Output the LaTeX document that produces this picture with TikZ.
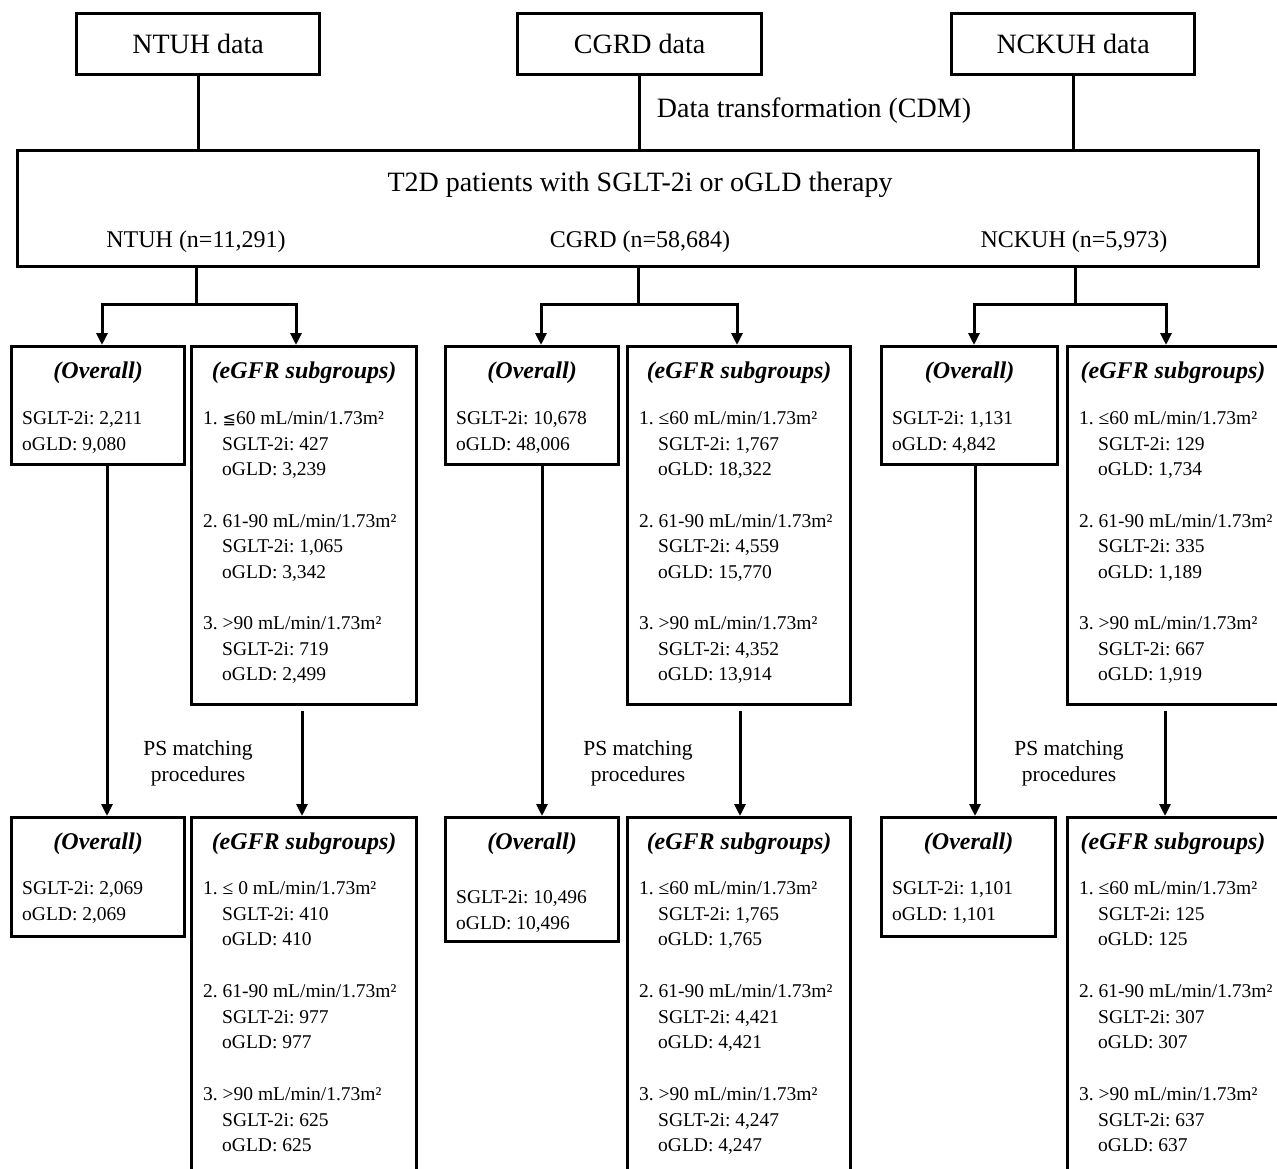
\documentclass[tikz,border=0pt]{standalone}
\usepackage{fontspec}
\setmainfont{Liberation Serif}
\newfontfamily\symf{DejaVu Sans}
\usetikzlibrary{arrows.meta,calc}
\frenchspacing
\tikzset{
 box/.style={draw, line width=3.2pt, inner sep=0pt, anchor=north west},
 txt/.style={inner sep=0pt, font=\fontsize{19.5}{23}\selectfont, anchor=base west},
 ttl/.style={inner sep=0pt, font=\fontsize{24}{28}\selectfont\bfseries\itshape},
 head/.style={inner sep=0pt, font=\fontsize{28}{32}\selectfont},
 sub/.style={inner sep=0pt, font=\fontsize{24}{28}\selectfont},
 ps/.style={inner sep=0pt, align=center, font=\fontsize{21.5}{26}\selectfont},
 conn/.style={line width=3pt},
 arr/.style={conn, -{Triangle[length=12pt,width=11pt]}},
}
\newcommand\mybox[6]{%
 \pgfmathsetmacro\bw{#4-#2}\pgfmathsetmacro\bh{#5-#3}%
 \node[box,minimum width=\bw pt,minimum height=\bh pt,font=\fontsize{28}{32}\selectfont] (#1) at (#2,#3) {#6};}
\newcommand\egrp[6]{%
 \node[txt] (#1a) at (#2+13,#3) {#4};
 \node[txt] (#1b) at (#2+32,#3+25.5) {SGLT-2i: #5};
 \node[txt] (#1c) at (#2+32,#3+51) {oGLD: #6};}
\begin{document}
\begin{tikzpicture}[x=1pt,y=-1pt]
\useasboundingbox (0,0) rectangle (1277,1169);
\clip (0,0) rectangle (1277,1169);
% top boxes
\mybox{ntuh}{75}{12}{318}{73}{NTUH data}
\mybox{cgrd}{516}{12}{760}{73}{CGRD data}
\mybox{nckuh}{950}{12}{1193}{73}{NCKUH data}
\node[head] (dt) at (814,111) {Data transformation (CDM)};
% big box
\mybox{big}{16}{149}{1257}{265}{}
\node[head] (t2d) at (640,185) {T2D patients with SGLT-2i or oGLD therapy};
\node[sub] (na) at (196,242) {NTUH (n=11,291)};
\node[sub] (nb) at (640,242) {CGRD (n=58,684)};
\node[sub] (nc) at (1074,242) {NCKUH (n=5,973)};
\draw[conn] (ntuh.south) -- (ntuh.south |- big.north);
\draw[conn] (cgrd.south) -- (cgrd.south |- big.north);
\draw[conn] (nckuh.south) -- (nckuh.south |- big.north);
% row 1 boxes
\mybox{a1o}{10}{345}{183}{463}{}
\mybox{a1e}{190}{345}{415}{703}{}
\mybox{b1o}{444}{345}{617}{463}{}
\mybox{b1e}{626}{345}{849}{703}{}
\mybox{c1o}{880}{345}{1056}{463}{}
\mybox{c1e}{1066}{345}{1300}{703}{}
% row 2 boxes
\mybox{a2o}{10}{816}{183}{935}{}
\mybox{a2e}{190}{816}{415}{1200}{}
\mybox{b2o}{444}{816}{617}{940}{}
\mybox{b2e}{626}{816}{849}{1200}{}
\mybox{c2o}{880}{816}{1054}{935}{}
\mybox{c2e}{1066}{816}{1300}{1200}{}
% branches
\coordinate (ja) at (196,304);
\coordinate (jb) at (638,304);
\coordinate (jc) at (1075,304);
\coordinate (xa1) at (102,0); \coordinate (xa2) at (296,0);
\coordinate (xb1) at (541,0); \coordinate (xb2) at (737,0);
\coordinate (xc1) at (974,0); \coordinate (xc2) at (1166,0);
\draw[conn] (ja |- big.south) -- (ja);
\draw[conn] (jb |- big.south) -- (jb);
\draw[conn] (jc |- big.south) -- (jc);
\draw[arr] (ja) -| (xa1 |- a1o.north);
\draw[arr] (ja) -| (xa2 |- a1e.north);
\draw[arr] (jb) -| (xb1 |- b1o.north);
\draw[arr] (jb) -| (xb2 |- b1e.north);
\draw[arr] (jc) -| (xc1 |- c1o.north);
\draw[arr] (jc) -| (xc2 |- c1e.north);
% PS matching arrows
\coordinate (pa1) at (107,0); \coordinate (pa2) at (302,0);
\coordinate (pb1) at (542,0); \coordinate (pb2) at (740,0);
\coordinate (pc1) at (975,0); \coordinate (pc2) at (1165,0);
\draw[arr] (pa1 |- a1o.south) -- (pa1 |- a2o.north);
\draw[arr,shorten <=5pt] (pa2 |- a1e.south) -- (pa2 |- a2e.north);
\draw[arr] (pb1 |- b1o.south) -- (pb1 |- b2o.north);
\draw[arr,shorten <=5pt] (pb2 |- b1e.south) -- (pb2 |- b2e.north);
\draw[arr] (pc1 |- c1o.south) -- (pc1 |- c2o.north);
\draw[arr,shorten <=5pt] (pc2 |- c1e.south) -- (pc2 |- c2e.north);
\node[ps] (psa) at (198,763) {PS matching\\procedures};
\node[ps] (psb) at (638,763) {PS matching\\procedures};
\node[ps] (psc) at (1069,763) {PS matching\\procedures};
% titles
\node[ttl] (ta1o) at (a1o.center |- 0,373) {(Overall)};
\node[ttl] (ta1e) at (a1e.center |- 0,373) {(eGFR subgroups)};
\node[ttl] (tb1o) at (b1o.center |- 0,373) {(Overall)};
\node[ttl] (tb1e) at (b1e.center |- 0,373) {(eGFR subgroups)};
\node[ttl] (tc1o) at (c1o.center |- 0,373) {(Overall)};
\node[ttl] (tc1e) at (1173,373) {(eGFR subgroups)};
\node[ttl] (ta2o) at (a2o.center |- 0,844) {(Overall)};
\node[ttl] (ta2e) at (a2e.center |- 0,844) {(eGFR subgroups)};
\node[ttl] (tb2o) at (b2o.center |- 0,844) {(Overall)};
\node[ttl] (tb2e) at (b2e.center |- 0,844) {(eGFR subgroups)};
\node[ttl] (tc2o) at (c2o.center |- 0,844) {(Overall)};
\node[ttl] (tc2e) at (1173,844) {(eGFR subgroups)};
% overall contents
\node[txt] (oa1s) at (22,424.5) {SGLT-2i: 2,211};
\node[txt] (oa1g) at (22,450) {oGLD: 9,080};
\node[txt] (ob1s) at (456,424.5) {SGLT-2i: 10,678};
\node[txt] (ob1g) at (456,450) {oGLD: 48,006};
\node[txt] (oc1s) at (892,424.5) {SGLT-2i: 1,131};
\node[txt] (oc1g) at (892,450) {oGLD: 4,842};
\node[txt] (oa2s) at (22,894.5) {SGLT-2i: 2,069};
\node[txt] (oa2g) at (22,920) {oGLD: 2,069};
\node[txt] (ob2s) at (456,903.5) {SGLT-2i: 10,496};
\node[txt] (ob2g) at (456,929) {oGLD: 10,496};
\node[txt] (oc2s) at (892,894.5) {SGLT-2i: 1,101};
\node[txt] (oc2g) at (892,920) {oGLD: 1,101};
% eGFR contents row 1
\egrp{ga11}{190}{424.5}{1. {\symf\fontsize{16}{20}\selectfont ≦}60 mL/min/1.73m²}{427}{3,239}
\egrp{ga12}{190}{527}{2. 61-90 mL/min/1.73m²}{1,065}{3,342}
\egrp{ga13}{190}{629.5}{3. >90 mL/min/1.73m²}{719}{2,499}
\egrp{gb11}{626}{424.5}{1. ≤60 mL/min/1.73m²}{1,767}{18,322}
\egrp{gb12}{626}{527}{2. 61-90 mL/min/1.73m²}{4,559}{15,770}
\egrp{gb13}{626}{629.5}{3. >90 mL/min/1.73m²}{4,352}{13,914}
\egrp{gc11}{1066}{424.5}{1. ≤60 mL/min/1.73m²}{129}{1,734}
\egrp{gc12}{1066}{527}{2. 61-90 mL/min/1.73m²}{335}{1,189}
\egrp{gc13}{1066}{629.5}{3. >90 mL/min/1.73m²}{667}{1,919}
% eGFR contents row 2
\egrp{ga21}{190}{894.5}{1. ≤ 0 mL/min/1.73m²}{410}{410}
\egrp{ga22}{190}{997.5}{2. 61-90 mL/min/1.73m²}{977}{977}
\egrp{ga23}{190}{1100.5}{3. >90 mL/min/1.73m²}{625}{625}
\egrp{gb21}{626}{894.5}{1. ≤60 mL/min/1.73m²}{1,765}{1,765}
\egrp{gb22}{626}{997.5}{2. 61-90 mL/min/1.73m²}{4,421}{4,421}
\egrp{gb23}{626}{1100.5}{3. >90 mL/min/1.73m²}{4,247}{4,247}
\egrp{gc21}{1066}{894.5}{1. ≤60 mL/min/1.73m²}{125}{125}
\egrp{gc22}{1066}{997.5}{2. 61-90 mL/min/1.73m²}{307}{307}
\egrp{gc23}{1066}{1100.5}{3. >90 mL/min/1.73m²}{637}{637}
\end{tikzpicture}
\end{document}
